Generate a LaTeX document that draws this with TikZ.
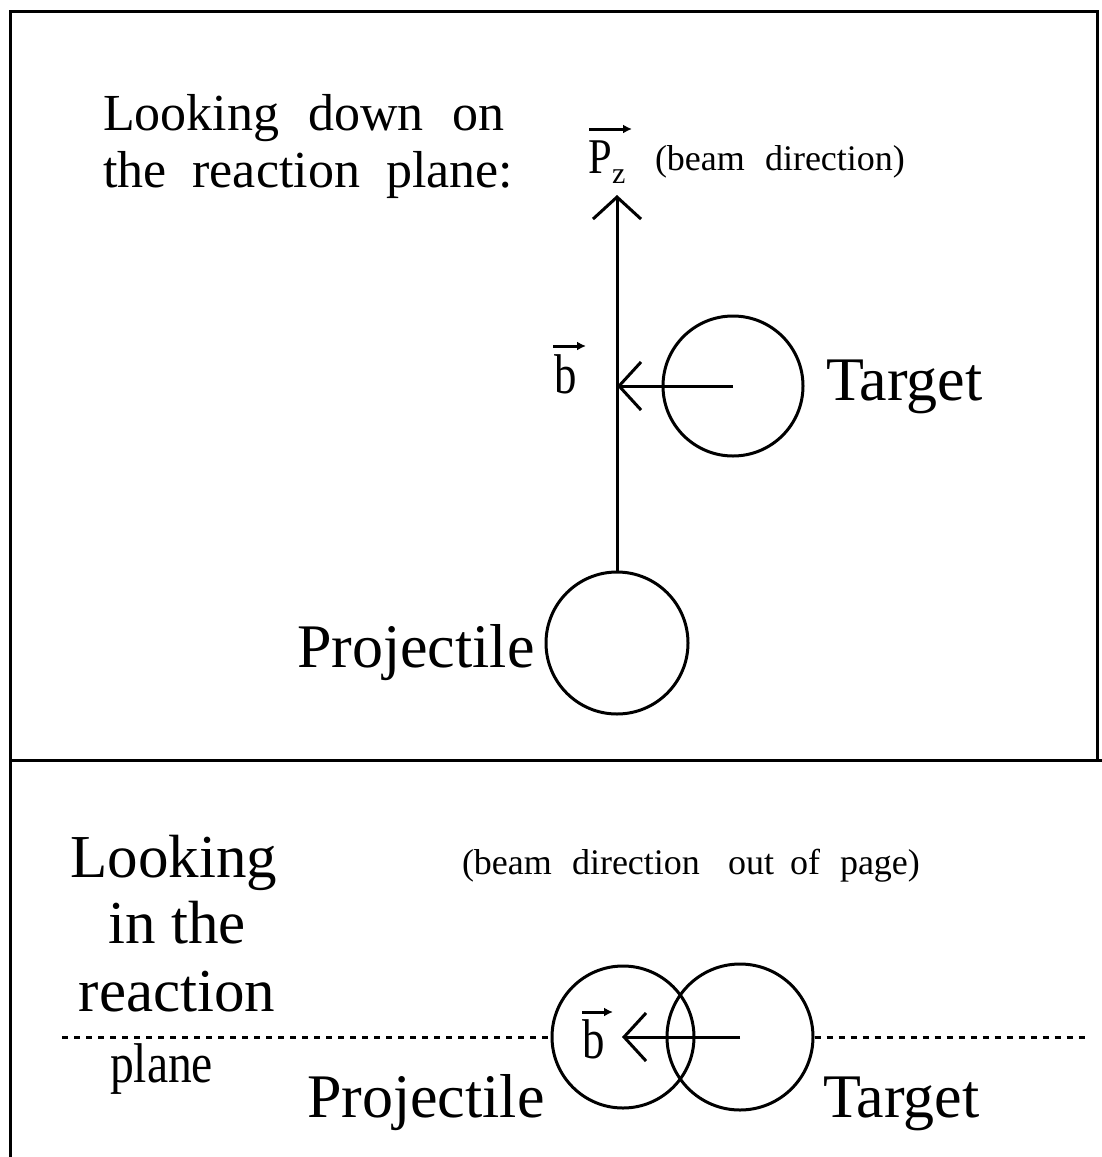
\documentclass[tikz,border=0pt]{standalone}
\usepackage{fontspec}
\usepackage{graphicx}
\setmainfont{Liberation Serif}
\usetikzlibrary{arrows.meta}
\begin{document}
\begin{tikzpicture}[x=1pt,y=-1pt,
  thick line/.style={line width=3pt},
  barb/.style={-{Straight Barb[length=22pt,width=48pt,line width=3pt]}},
  vecarrow/.style={line width=3pt,-{Latex[length=9pt,width=9pt]}},
  lbl/.style={anchor=base west,inner sep=0pt,outer sep=0pt},
  ctr/.style={anchor=base,inner sep=0pt,outer sep=0pt},
  big/.style={font=\fontsize{52}{60}\selectfont},
  bodylbl/.style={font=\fontsize{62}{70}\selectfont},
  hugelbl/.style={font=\fontsize{61}{70}\selectfont},
  small/.style={font=\fontsize{36}{40}\selectfont},
  ball/.style={circle,draw,line width=3pt,inner sep=0pt}]
\useasboundingbox (0,0) rectangle (1102,1157);
% frame
\coordinate (fbl) at (10,1157);
\coordinate (ftl) at (10,11);
\coordinate (ftr) at (1097,11);
\coordinate (fbr) at (1097,760);
\coordinate (dl) at (10,760);
\coordinate (dr) at (1102,760);
\draw[thick line] (fbl) -- (ftl) -- (ftr) -- (fbr);
\draw[thick line] (dl) -- (dr);
% top panel
\node[lbl,big] (t1) at (103,130) {Looking\ \ \hspace{3pt}down\ \ \hspace{3pt}on};
\node[lbl,big] (t2) at (103,187) {the\ \ reaction\ \ plane:};
\node[ball,minimum size=140pt] (tg) at (733,386) {};
\node[ball,minimum size=142pt] (pj) at (617,643) {};
\coordinate (ptip) at (617,195);
\coordinate (btip) at (617,386);
\draw[thick line,barb] (pj.north) -- (ptip);
\draw[thick line,barb] (tg.center) -- (btip);
% P_z label
\node[lbl,font=\fontsize{50}{50}\selectfont] (pz) at (588,173) {\scalebox{0.85}[1]{P}};
\node[lbl,font=\fontsize{30}{30}\selectfont] (pzs) at (612,183) {z};
\coordinate (pza) at (589,129);
\coordinate (pzb) at (632,129);
\draw[vecarrow] (pza) -- (pzb);
\node[lbl,small] (bd1) at (655,170) {(beam};
\node[lbl,small] (bd2) at (765,170) {direction)};
% b label
\node[lbl,font=\fontsize{56}{60}\selectfont] (bl) at (554,393) {\scalebox{0.8}[1]{b}};
\coordinate (bla) at (553,346);
\coordinate (blb) at (586,346);
\draw[vecarrow] (bla) -- (blb);
\node[lbl,bodylbl] (tl) at (826,400) {Target};
\node[lbl,bodylbl] (pl) at (297,667) {Projectile};
% bottom panel
\node[ctr,hugelbl] (l1) at (174,877) {Looking};
\node[ctr,hugelbl] (l2) at (177,943) {in the};
\node[ctr,hugelbl] (l3) at (177,1011) {reaction};
\node[lbl,font=\fontsize{56}{60}\selectfont] (l4) at (110,1082) {\scalebox{0.85}[1]{plane}};
\node[lbl,small] (c1) at (462,874) {(beam};
\node[lbl,small] (c2) at (572,874) {direction};
\node[lbl,small] (c3) at (728,874) {out};
\node[lbl,small] (c4) at (790,874) {of};
\node[lbl,small] (c5) at (840,874) {page)};
\node[ball,minimum size=142pt] (pj2) at (623,1037) {};
\node[ball,minimum size=146pt] (tg2) at (740,1037) {};
\coordinate (b2tip) at (622,1037);
\draw[thick line,barb] (tg2.center) -- (b2tip);
\node[lbl,font=\fontsize{56}{60}\selectfont] (bl2) at (582,1058) {\scalebox{0.8}[1]{b}};
\coordinate (b2a) at (582,1012);
\coordinate (b2b) at (613,1012);
\draw[vecarrow] (b2a) -- (b2b);
\coordinate (dotl) at (62,1037);
\coordinate (dotr) at (1090,1037);
\draw[line width=3pt,dash pattern=on 6pt off 6pt] (dotl) -- (pj2.west);
\draw[line width=3pt,dash pattern=on 6pt off 6pt] (tg2.east) -- (dotr);
\node[lbl,bodylbl] (pl2) at (307,1117) {Projectile};
\node[lbl,bodylbl] (tl2) at (823,1117) {Target};
\end{tikzpicture}
\end{document}
